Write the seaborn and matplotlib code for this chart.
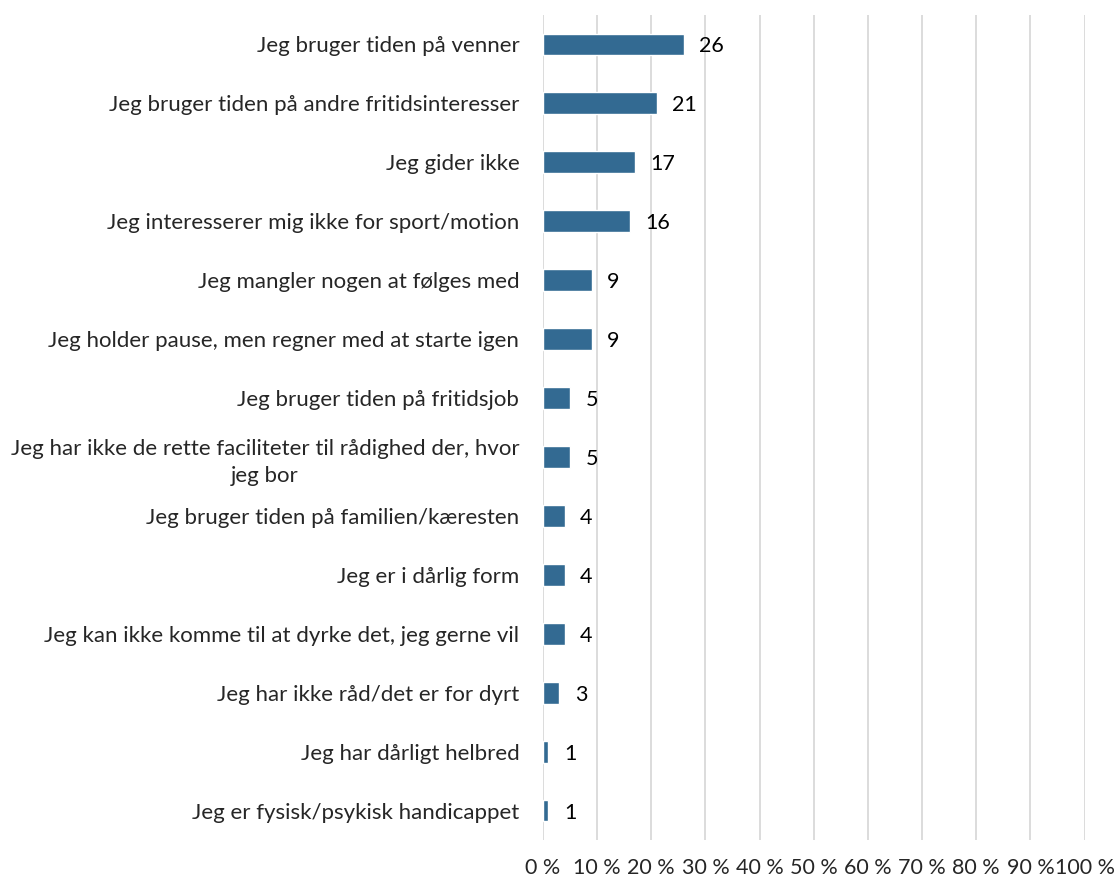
import matplotlib
matplotlib.use("Agg")
import matplotlib.pyplot as plt
import seaborn as sns
import pandas as pd

# Data
categories = [
    "Jeg bruger tiden på venner",
    "Jeg bruger tiden på andre fritidsinteresser",
    "Jeg gider ikke",
    "Jeg interesserer mig ikke for sport/motion",
    "Jeg mangler nogen at følges med",
    "Jeg holder pause, men regner med at starte igen",
    "Jeg bruger tiden på fritidsjob",
    "Jeg har ikke de rette faciliteter til rådighed der, hvor\njeg bor",
    "Jeg bruger tiden på familien/kæresten",
    "Jeg er i dårlig form",
    "Jeg kan ikke komme til at dyrke det, jeg gerne vil",
    "Jeg har ikke råd/det er for dyrt",
    "Jeg har dårligt helbred",
    "Jeg er fysisk/psykisk handicappet",
]
values = [26, 21, 17, 16, 9, 9, 5, 5, 4, 4, 4, 3, 1, 1]
tick_values = [0, 10, 20, 30, 40, 50, 60, 70, 80, 90, 100]
tick_labels = [f"{t} %" for t in tick_values]

bar_color = "#336A92"

sns.set_theme(style="white")
plt.rcParams["font.family"] = ["Lato", "DejaVu Sans"]

df = pd.DataFrame({"category": categories, "value": values})

fig = plt.figure(figsize=(11.17, 8.81), dpi=100)
ax = fig.add_axes([0.486, 0.0465, 0.485, 0.9365])

sns.barplot(data=df, y="category", x="value", color=bar_color, width=0.37,
            saturation=1, ax=ax, orient="h")

# value labels
for i, v in enumerate(values):
    ax.text(v + 2.9, i, str(v), va="center_baseline", ha="left", fontsize=15.5, color="black")

ax.set_xlim(0, 100)
ax.set_ylim(13.5, -0.5)
ax.set_xticks(tick_values)
ax.set_xticklabels(tick_labels, fontsize=15.5)
ax.tick_params(axis="x", length=0, pad=13)
ax.tick_params(axis="y", length=0, pad=17, labelsize=16)
for lbl in ax.get_yticklabels():
    lbl.set_multialignment("center")
    lbl.set_linespacing(1.45)
ax.set_xlabel("")
ax.set_ylabel("")
ax.grid(axis="x", color="#D9D9D9", linewidth=1.3)
ax.set_axisbelow(True)
for s in ax.spines.values():
    s.set_visible(False)

plt.savefig("out.png", dpi=100)
